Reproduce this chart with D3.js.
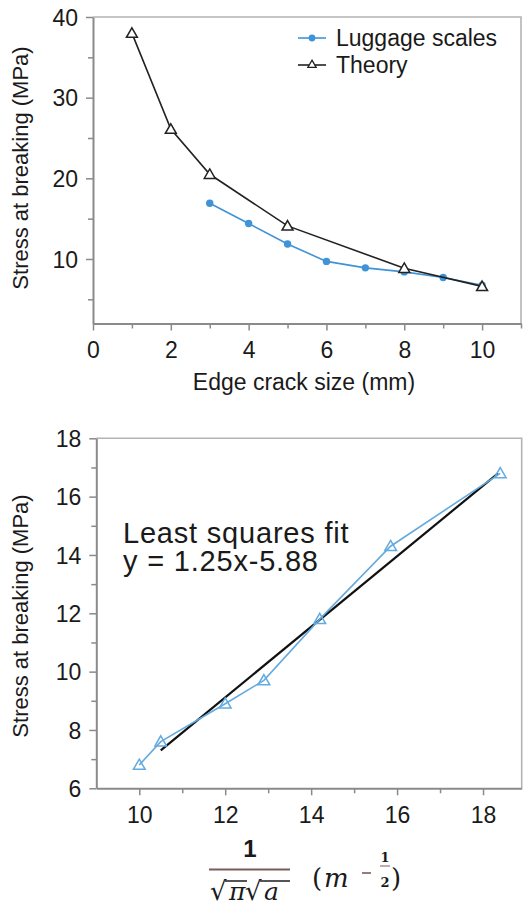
<!DOCTYPE html>
<html>

<head>
    <script src="https://d3js.org/d3.v7.min.js"></script>
    <title>Stress at breaking</title>
    <meta charset="UTF-8">
    <style type="text/css">
        body { margin: 0; background: #fff; }
        text { font-family: "Liberation Sans", Arial, Helvetica, sans-serif; fill: #1a1a1a; }
        .math { font-family: "DejaVu Serif", "Liberation Serif", serif; }
    </style>
</head>

<body>
    <script type="text/javascript">
        // top chart: stress vs edge crack size
        var crackLuggage = [3, 4, 5, 6, 7, 8, 9, 10];
        var stressLuggage = [16.9, 14.4, 11.85, 9.7, 8.9, 8.4, 7.7, 6.75];
        var crackTheory = [1, 2, 3, 5, 8, 10];
        var stressTheory = [38.0, 26.1, 20.5, 14.1, 8.85, 6.6];
        var topXTicks = [0, 2, 4, 6, 8, 10];
        var topXMinor = [1, 3, 5, 7, 9, 11];
        var topYTicks = [10, 20, 30, 40];
        var topYMinor = [5, 15, 25, 35];
        var legendLabels = ["Luggage scales", "Theory"];

        // bottom chart: stress vs 1/sqrt(pi a)
        var invSqrtCrack = [10.0, 10.5, 12.0, 12.9, 14.2, 15.85, 18.4];
        var stressFit = [6.8, 7.6, 8.9, 9.7, 11.8, 14.3, 16.8];
        var fitLineX = [10.5, 18.35];
        var fitLineY = [7.3, 16.8];
        var botXTicks = [10, 12, 14, 16, 18];
        var botXMinor = [11, 13, 15, 17];
        var botYTicks = [6, 8, 10, 12, 14, 16, 18];
        var botYMinor = [7, 9, 11, 13, 15, 17];
        var fitLabel = ["Least squares fit", "y = 1.25x-5.88"];

        var blue = "#3f93d6", lightBlue = "#64aadf", axisGrey = "#8a8a8a", frameGrey = "#b4b4b4";

        var svg = d3.select("body")
            .append("svg")
            .attr("width", 530)
            .attr("height", 909);

        var tri = d3.symbol().type(d3.symbolTriangle).size(52);

        // draws frame, major + minor ticks for one panel
        function drawFrame(x, y, xt, xm, yt, ym) {
            var x0 = x.range()[0], x1 = x.range()[1], y0 = y.range()[0], y1 = y.range()[1];

            // light top and right border
            svg.append("path")
                .attr("d", "M" + x0 + "," + y1 + "H" + x1 + "V" + y0)
                .attr("fill", "none")
                .attr("stroke", frameGrey)
                .attr("stroke-width", 1.6);

            var xAxis = svg.append("g")
                .attr("transform", "translate(0," + y0 + ")")
                .call(d3.axisBottom(x).tickValues(xt).tickSize(7).tickPadding(11).tickSizeOuter(0));
            svg.append("g")
                .attr("transform", "translate(0," + y0 + ")")
                .call(d3.axisBottom(x).tickValues(xm).tickSize(5).tickFormat("").tickSizeOuter(0))
                .select(".domain").remove();

            var yAxis = svg.append("g")
                .attr("transform", "translate(" + x0 + ",0)")
                .call(d3.axisLeft(y).tickValues(yt).tickSize(7).tickPadding(8).tickSizeOuter(0));
            svg.append("g")
                .attr("transform", "translate(" + x0 + ",0)")
                .call(d3.axisLeft(y).tickValues(ym).tickSize(5).tickFormat("").tickSizeOuter(0))
                .select(".domain").remove();

            svg.selectAll(".domain").attr("stroke", axisGrey).attr("stroke-width", 2);
            svg.selectAll(".tick line").attr("stroke", axisGrey).attr("stroke-width", 1.5);
            xAxis.selectAll(".tick text").style("font-size", "23px").attr("fill", "#1a1a1a");
            yAxis.selectAll(".tick text").style("font-size", "23px").attr("fill", "#1a1a1a").attr("dy", "0.36em");
        }

        function yTitle(cy) {
            svg.append("text")
                .attr("transform", "translate(28," + cy + ") rotate(-90)")
                .attr("text-anchor", "middle")
                .style("font-size", "22px")
                .text("Stress at breaking (MPa)");
        }

        // ---------- top chart ----------
        var x = d3.scaleLinear().domain([0, 11]).range([93, 521]);
        var y = d3.scaleLinear().domain([2, 40]).range([323.5, 17]);

        drawFrame(x, y, topXTicks, topXMinor, topYTicks, topYMinor);
        yTitle(168);

        svg.append("text")
            .attr("x", 304)
            .attr("y", 390)
            .attr("text-anchor", "middle")
            .style("font-size", "23px")
            .text("Edge crack size (mm)");

        var line = d3.line()
            .x(function (d) { return x(d[0]); })
            .y(function (d) { return y(d[1]); });

        var luggage = crackLuggage.map(function (c, i) { return [c, stressLuggage[i]]; });
        var theory = crackTheory.map(function (c, i) { return [c, stressTheory[i]]; });

        svg.append("path")
            .attr("d", line(luggage))
            .attr("fill", "none")
            .attr("stroke", blue)
            .attr("stroke-width", 1.6);

        svg.selectAll(".lug")
            .data(luggage)
            .enter().append("circle")
            .attr("cx", function (d) { return x(d[0]); })
            .attr("cy", function (d) { return y(d[1]); })
            .attr("r", 3.7)
            .attr("fill", blue);

        svg.append("path")
            .attr("d", line(theory))
            .attr("fill", "none")
            .attr("stroke", "#222")
            .attr("stroke-width", 1.6);

        svg.selectAll(".th")
            .data(theory)
            .enter().append("path")
            .attr("d", tri)
            .attr("transform", function (d) { return "translate(" + x(d[0]) + "," + (y(d[1]) + 1) + ")"; })
            .attr("fill", "#fff")
            .attr("stroke", "#222")
            .attr("stroke-width", 1.5);

        // legend
        var legend = svg.append("g");
        legendLabels.forEach(function (lab, i) {
            var ly = 38 + i * 27;
            var col = i == 0 ? blue : "#222";
            legend.append("line")
                .attr("x1", 298).attr("x2", 326)
                .attr("y1", ly).attr("y2", ly)
                .attr("stroke", col)
                .attr("stroke-width", 1.6);
            if (i == 0) {
                legend.append("circle").attr("cx", 312).attr("cy", ly).attr("r", 3.4).attr("fill", blue);
            } else {
                legend.append("path")
                    .attr("d", d3.symbol().type(d3.symbolTriangle).size(30))
                    .attr("transform", "translate(312," + ly + ")")
                    .attr("fill", "#fff").attr("stroke", "#222").attr("stroke-width", 1.3);
            }
            legend.append("text")
                .attr("x", 336)
                .attr("y", ly + 8)
                .style("font-size", "23px")
                .text(lab);
        });

        // ---------- bottom chart ----------
        var x2 = d3.scaleLinear().domain([9, 18.9]).range([96.3, 521.7]);
        var y2 = d3.scaleLinear().domain([6, 18]).range([788.3, 438.3]);

        drawFrame(x2, y2, botXTicks, botXMinor, botYTicks, botYMinor);
        yTitle(616);

        var line2 = d3.line()
            .x(function (d) { return x2(d[0]); })
            .y(function (d) { return y2(d[1]); });

        var pts = invSqrtCrack.map(function (v, i) { return [v, stressFit[i]]; });
        var fit = fitLineX.map(function (v, i) { return [v, fitLineY[i]]; });

        svg.append("path")
            .attr("d", line2(fit))
            .attr("fill", "none")
            .attr("stroke", "#111")
            .attr("stroke-width", 2.2);

        svg.append("path")
            .attr("d", line2(pts))
            .attr("fill", "none")
            .attr("stroke", lightBlue)
            .attr("stroke-width", 1.6);

        svg.selectAll(".pt")
            .data(pts)
            .enter().append("path")
            .attr("d", d3.symbol().type(d3.symbolTriangle).size(60))
            .attr("transform", function (d) { return "translate(" + x2(d[0]) + "," + (y2(d[1]) + 1) + ")"; })
            .attr("fill", "none")
            .attr("stroke", lightBlue)
            .attr("stroke-width", 1.5);

        fitLabel.forEach(function (t, i) {
            svg.append("text")
                .attr("x", 123)
                .attr("y", 543 + i * 28)
                .style("font-size", "29px")
                .style("letter-spacing", "0.8px")
                .text(t);
        });

        // x title: 1 / (sqrt(pi) sqrt(a))   (m^-1/2)
        var brown = "#7b5b5b", ink = "#2a2a2a";
        var xt = svg.append("g");
        xt.append("text")
            .attr("x", 250).attr("y", 857)
            .attr("text-anchor", "middle")
            .style("font-size", "24px")
            .style("font-weight", "bold")
            .attr("fill", "#111")
            .text("1");
        xt.append("line")
            .attr("x1", 209).attr("x2", 290)
            .attr("y1", 869.5).attr("y2", 869.5)
            .attr("stroke", brown).attr("stroke-width", 2);
        [[210, 225, 247, "\u03c0", 229], [245, 260, 290, "a", 264]].forEach(function (r) {
            xt.append("text")
                .attr("class", "math")
                .attr("x", r[0]).attr("y", 900)
                .style("font-size", "26px")
                .attr("fill", ink)
                .text("\u221a");
            xt.append("line")
                .attr("x1", r[1]).attr("x2", r[2])
                .attr("y1", 881).attr("y2", 881)
                .attr("stroke", ink).attr("stroke-width", 1.6);
            xt.append("text")
                .attr("class", "math")
                .attr("x", r[4]).attr("y", 900)
                .style("font-size", "25px")
                .style("font-style", "italic")
                .attr("fill", ink)
                .text(r[3]);
        });
        xt.append("text").attr("class", "math").attr("x", 312).attr("y", 887)
            .style("font-size", "26px").attr("fill", brown).text("(");
        xt.append("text").attr("class", "math").attr("x", 324).attr("y", 887)
            .style("font-size", "26px").style("font-style", "italic").attr("fill", brown).text("m");
        xt.append("line").attr("x1", 362).attr("x2", 371).attr("y1", 873).attr("y2", 873)
            .attr("stroke", brown).attr("stroke-width", 1.6);
        xt.append("text").attr("class", "math").attr("x", 385).attr("y", 862)
            .attr("text-anchor", "middle").style("font-size", "13px").style("font-weight", "bold")
            .attr("fill", brown).text("1");
        xt.append("line").attr("x1", 380).attr("x2", 390).attr("y1", 866).attr("y2", 866)
            .attr("stroke", brown).attr("stroke-width", 1);
        xt.append("text").attr("class", "math").attr("x", 385).attr("y", 887)
            .attr("text-anchor", "middle").style("font-size", "13px").style("font-weight", "bold")
            .attr("fill", brown).text("2");
        xt.append("text").attr("class", "math").attr("x", 391).attr("y", 887)
            .style("font-size", "26px").attr("fill", brown).text(")");
    </script>
</body>

</html>
